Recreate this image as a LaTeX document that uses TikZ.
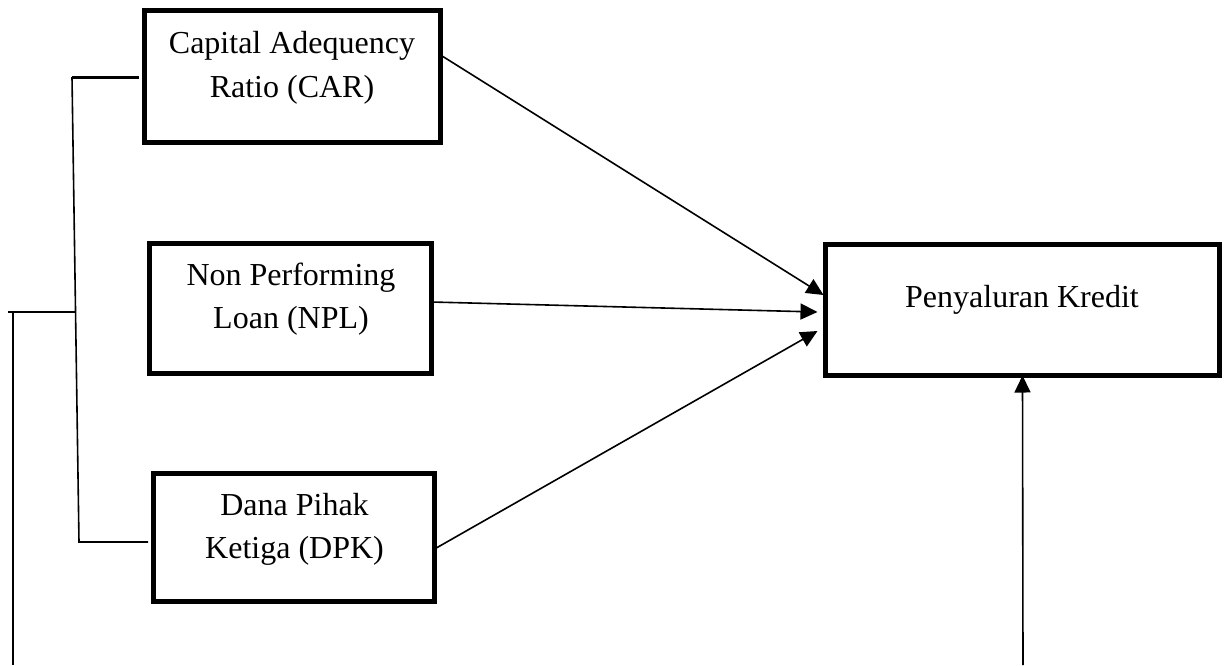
\documentclass[tikz,border=0pt]{standalone}
\usepackage{fontspec}
\setmainfont{Liberation Serif}
\usetikzlibrary{arrows.meta,calc}
\begin{document}
\begin{tikzpicture}[x=0.5pt,y=-0.5pt,
  box/.style={draw, line width=2.5pt, inner sep=0pt, outer sep=0pt},
  txt/.style={font=\fontsize{16}{20}\selectfont, inner sep=0pt, anchor=base},
  conn/.style={line width=0.8pt},
  arr/.style={conn, -{Triangle[length=8.5pt,width=8pt]}}]
\useasboundingbox (0,0) rectangle (1228,665);
% boxes
\node[box, minimum width=148pt, minimum height=66pt] (car) at (292.5,76.5) {};
\node[box, minimum width=141pt, minimum height=65pt] (npl) at (290.5,308.5) {};
\node[box, minimum width=140.5pt, minimum height=64pt] (dpk) at (294,537.5) {};
\node[box, minimum width=197pt, minimum height=65.5pt] (pk) at (1022.5,310) {};
% texts
\node[txt] (carA) at (292,53) {Capital Adequency};
\node[txt] (carB) at (292,97) {Ratio (CAR)};
\node[txt] (nplA) at (291,285) {Non Performing};
\node[txt] (nplB) at (291,328) {Loan (NPL)};
\node[txt] (dpkA) at (294.5,515) {Dana Pihak};
\node[txt] (dpkB) at (294.5,558) {Ketiga (DPK)};
\node[txt] (pkA) at (1022,307) {Penyaluran Kredit};
% arrows into Penyaluran Kredit
\draw[arr] ($(car.east)+(0,-21.5)$) -- ($(pk.west)+(-2,-15)$);
\draw[arr] ($(npl.east)+(0,-6.5)$) -- ($(pk.west)+(-8,2)$);
\draw[arr] ($(dpk.east)+(0,11.5)$) -- ($(pk.west)+(-8,21)$);
% bracket
\coordinate (bt) at (72,77);
\coordinate (bb) at (79,542);
\coordinate (bj) at (75.5,312);
\coordinate (lj) at (8,312);
\coordinate (lt) at (13,312);
\coordinate (lb) at (13,665);
\coordinate (rb) at (1023,665);
\draw[line width=1.5pt] ($(car.west)+(-5.5,0.5)$) -- (bt);
\draw[conn] (bt) -- (bb) -- ($(dpk.west)+(-5.5,4.5)$);
\draw[conn] (bj) -- (lj);
\draw[conn] (lt) -- (lb);
\draw[arr] (rb) -- (pk.south);
\end{tikzpicture}
\end{document}
